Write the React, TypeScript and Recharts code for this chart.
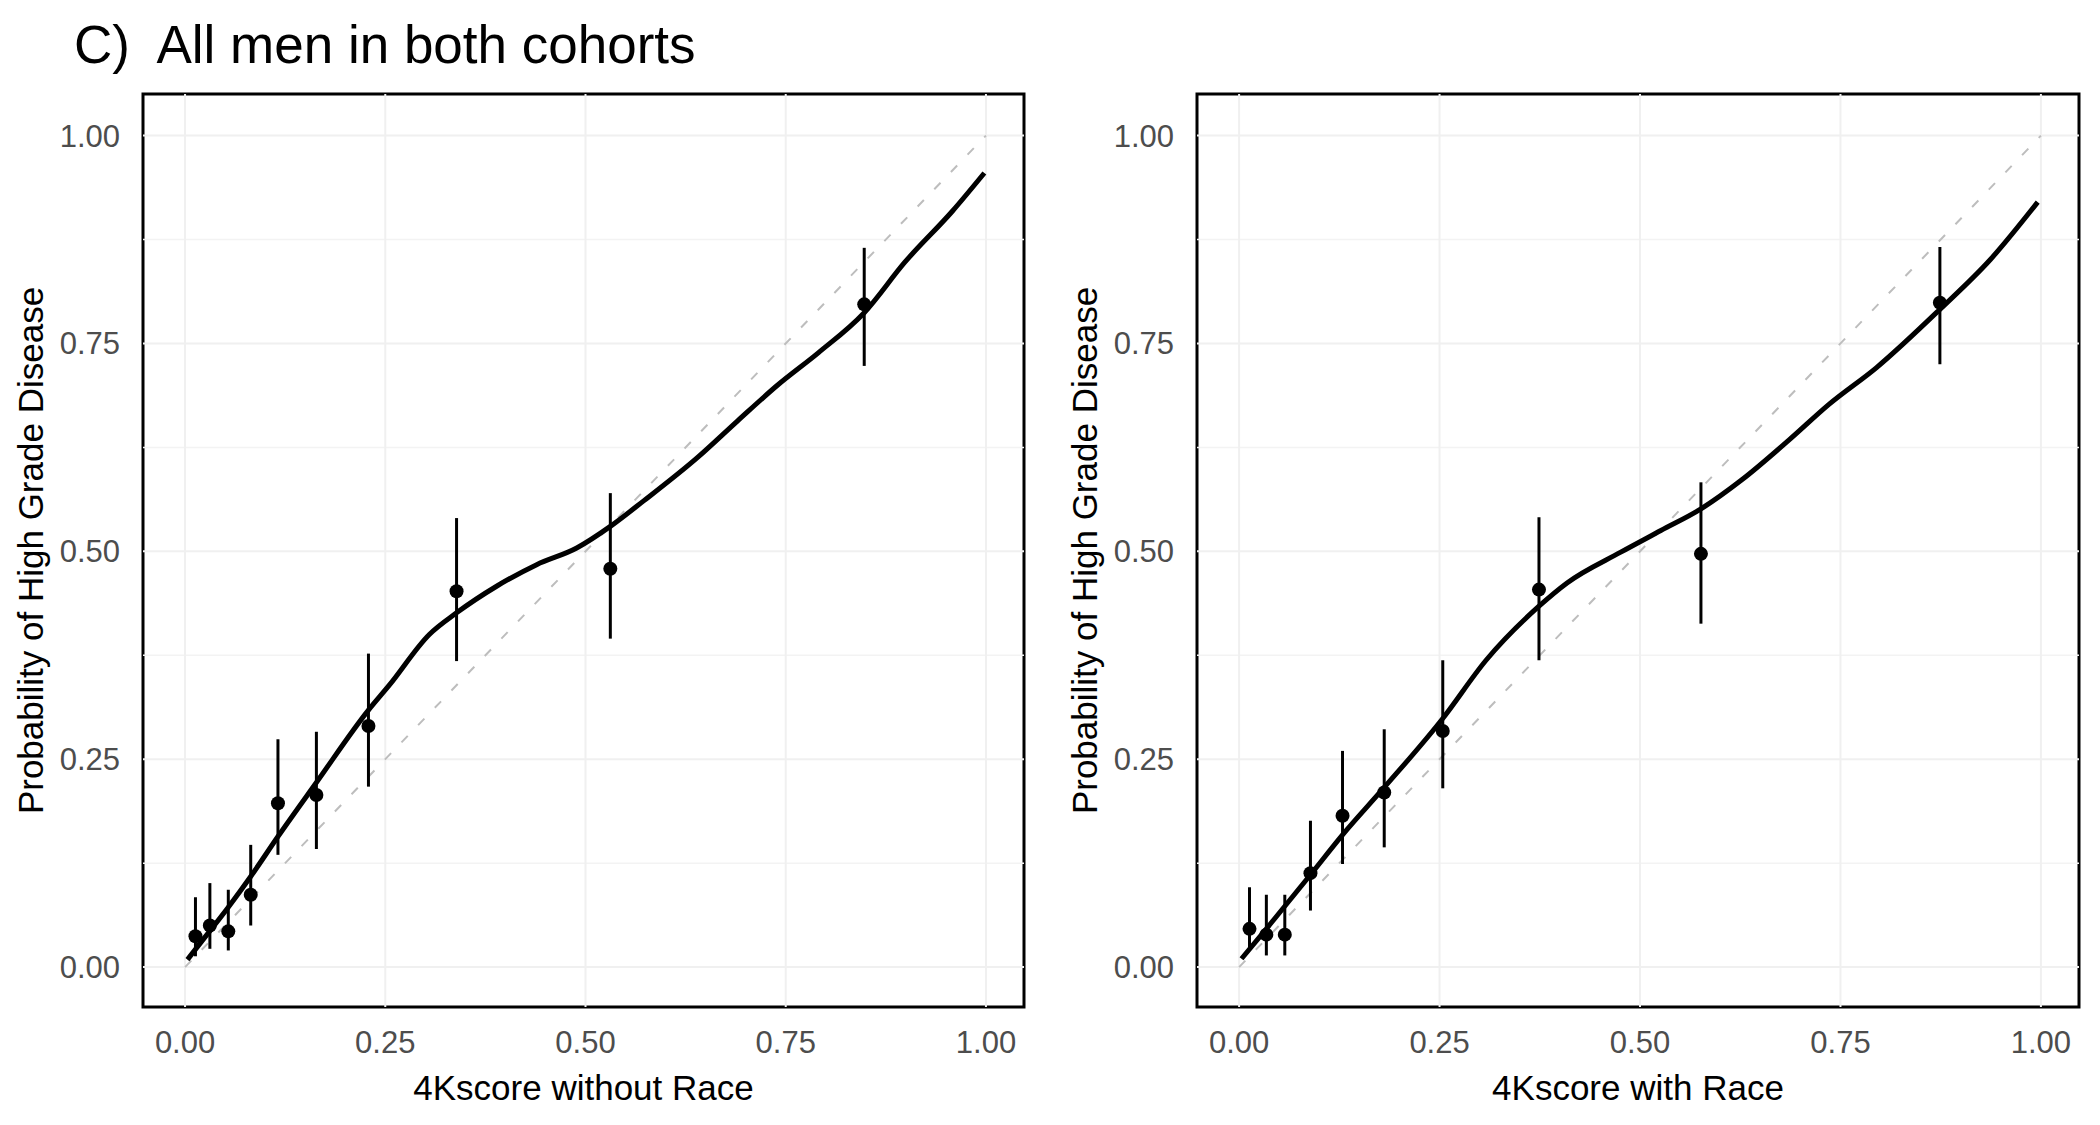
import React from "react";
import {
  ComposedChart,
  Line,
  Scatter,
  ErrorBar,
  XAxis,
  YAxis,
  ReferenceLine,
  ReferenceArea,
} from "recharts";

// observed grouped points, panel A (without race)
const obsXA = [0.013, 0.031, 0.054, 0.082, 0.116, 0.164, 0.229, 0.339, 0.531, 0.848];
const obsYA = [0.037, 0.05, 0.043, 0.087, 0.197, 0.207, 0.29, 0.452, 0.479, 0.797];
const loA = [0.013, 0.022, 0.02, 0.05, 0.135, 0.142, 0.217, 0.368, 0.395, 0.723];
const hiA = [0.084, 0.101, 0.093, 0.147, 0.274, 0.283, 0.377, 0.54, 0.57, 0.865];

// smoothed calibration curve, panel A
const curveXA = [0.003, 0.02, 0.054, 0.082, 0.116, 0.164, 0.229, 0.255, 0.305, 0.339, 0.389, 0.439, 0.489, 0.531, 0.573, 0.64, 0.69, 0.74, 0.791, 0.848, 0.899, 0.958, 0.998];
const curveYA = [0.009, 0.03, 0.072, 0.109, 0.157, 0.222, 0.309, 0.339, 0.4, 0.426, 0.458, 0.484, 0.504, 0.53, 0.561, 0.613, 0.657, 0.7, 0.739, 0.787, 0.848, 0.909, 0.955];

// panel B (with race)
const obsXB = [0.013, 0.034, 0.057, 0.089, 0.129, 0.181, 0.254, 0.374, 0.576, 0.874];
const obsYB = [0.046, 0.039, 0.039, 0.113, 0.182, 0.21, 0.284, 0.454, 0.497, 0.799];
const loB = [0.024, 0.014, 0.014, 0.068, 0.124, 0.144, 0.215, 0.369, 0.413, 0.725];
const hiB = [0.096, 0.087, 0.087, 0.176, 0.26, 0.286, 0.369, 0.541, 0.583, 0.866];

const curveXB = [0.003, 0.034, 0.089, 0.129, 0.181, 0.254, 0.308, 0.374, 0.409, 0.476, 0.526, 0.576, 0.627, 0.686, 0.736, 0.795, 0.874, 0.937, 0.996];
const curveYB = [0.01, 0.046, 0.111, 0.159, 0.216, 0.299, 0.369, 0.434, 0.462, 0.499, 0.525, 0.551, 0.586, 0.634, 0.677, 0.721, 0.791, 0.851, 0.92];

const ticks = [0, 0.25, 0.5, 0.75, 1];
const minorY = [0.125, 0.375, 0.625, 0.875];

const FONT = "'Liberation Sans', Arial, sans-serif";
const X_DOMAIN: [number, number] = [-0.0525, 1.0475];
const Y_DOMAIN: [number, number] = [-0.048, 1.05];

function buildPoints(xs: number[], ys: number[], lo: number[], hi: number[]) {
  return xs.map((x, i) => ({ x, y: ys[i], err: [ys[i] - lo[i], hi[i] - ys[i]] }));
}

function buildCurve(xs: number[], ys: number[]) {
  return xs.map((x, i) => ({ x, y: ys[i] }));
}

const Dot = (props: any) => <circle cx={props.cx} cy={props.cy} r={7} fill="#000" />;

interface PanelProps {
  points: { x: number; y: number; err: number[] }[];
  curve: { x: number; y: number }[];
  xLabel: string;
  yAxisWidth: number;
  marginRight: number;
  yLabelOffset: number;
}

function Panel({ points, curve, xLabel, yAxisWidth, marginRight, yLabelOffset }: PanelProps) {
  const tickStyle = { fill: "#4D4D4D", fontSize: 31, fontFamily: FONT };
  return (
    <ComposedChart
      width={1050}
      height={1125}
      margin={{ top: 94, right: marginRight, bottom: 0, left: 10 }}
    >
      {minorY.map((v) => (
        <ReferenceLine key={"m" + v} y={v} stroke="#F3F3F3" strokeWidth={1.5} />
      ))}
      {ticks.map((v) => (
        <ReferenceLine key={"h" + v} y={v} stroke="#F0F0F0" strokeWidth={2} />
      ))}
      {ticks.map((v) => (
        <ReferenceLine key={"v" + v} x={v} stroke="#F0F0F0" strokeWidth={2} />
      ))}
      <XAxis
        type="number"
        dataKey="x"
        domain={X_DOMAIN}
        ticks={ticks}
        allowDataOverflow
        tickFormatter={(v: number) => v.toFixed(2)}
        tick={tickStyle}
        tickLine={false}
        axisLine={false}
        tickSize={0}
        tickMargin={24}
        height={118}
        label={{
          value: xLabel,
          position: "insideBottom",
          offset: 25,
          fill: "#000",
          fontSize: 35,
          fontFamily: FONT,
        }}
      />
      <YAxis
        type="number"
        dataKey="y"
        domain={Y_DOMAIN}
        ticks={ticks}
        allowDataOverflow
        tickFormatter={(v: number) => v.toFixed(2)}
        tick={tickStyle}
        tickLine={false}
        axisLine={false}
        tickSize={0}
        tickMargin={23}
        width={yAxisWidth}
        label={{
          value: "Probability of High Grade Disease",
          angle: -90,
          position: "insideLeft",
          offset: yLabelOffset,
          fill: "#000",
          fontSize: 35,
          fontFamily: FONT,
          style: { textAnchor: "middle" },
        }}
      />
      <ReferenceLine
        segment={[
          { x: 0, y: 0 },
          { x: 1, y: 1 },
        ]}
        stroke="#BDBDBD"
        strokeWidth={2}
        strokeDasharray="9 15"
      />
      <Line
        data={curve}
        dataKey="y"
        type="monotone"
        stroke="#000"
        strokeWidth={5}
        dot={false}
        activeDot={false}
        isAnimationActive={false}
      />
      <Scatter data={points} dataKey="y" shape={Dot} isAnimationActive={false}>
        <ErrorBar
          dataKey="err"
          direction="y"
          width={0}
          stroke="#000"
          strokeWidth={3}
          isAnimationActive={false}
        />
      </Scatter>
      <ReferenceArea
        x1={X_DOMAIN[0]}
        x2={X_DOMAIN[1]}
        y1={Y_DOMAIN[0]}
        y2={Y_DOMAIN[1]}
        fill="none"
        stroke="#000"
        strokeWidth={3}
        fillOpacity={0}
      />
    </ComposedChart>
  );
}

export default function App() {
  return (
    <div
      style={{
        position: "absolute",
        left: 0,
        top: 0,
        width: 2100,
        height: 1125,
        background: "#fff",
        fontFamily: FONT,
      }}
    >
      <div
        style={{
          position: "absolute",
          left: 74,
          top: 18,
          fontSize: 53,
          lineHeight: "54px",
          whiteSpace: "pre",
          color: "#000",
        }}
      >
        {"C)  All men in both cohorts"}
      </div>
      <div style={{ position: "absolute", left: 0, top: 0 }}>
        <Panel
          points={buildPoints(obsXA, obsYA, loA, hiA)}
          curve={buildCurve(curveXA, curveYA)}
          xLabel="4Kscore without Race"
          yAxisWidth={133}
          marginRight={26}
          yLabelOffset={21}
        />
      </div>
      <div style={{ position: "absolute", left: 1050, top: 0 }}>
        <Panel
          points={buildPoints(obsXB, obsYB, loB, hiB)}
          curve={buildCurve(curveXB, curveYB)}
          xLabel="4Kscore with Race"
          yAxisWidth={137}
          marginRight={21}
          yLabelOffset={25}
        />
      </div>
    </div>
  );
}
